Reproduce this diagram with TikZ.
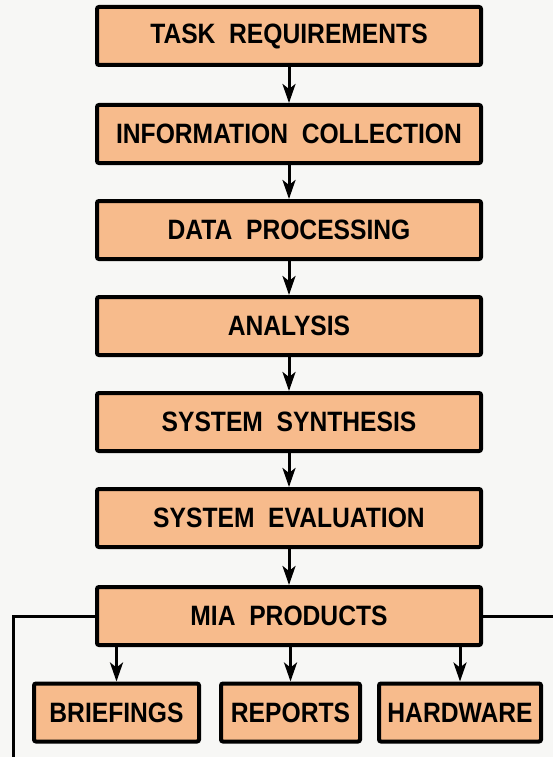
\documentclass[tikz,border=0pt]{standalone}
\usepackage{fontspec}
\usetikzlibrary{arrows.meta}
\newfontfamily\boxfont{Liberation Sans}[FakeStretch=0.88,WordSpace=2]
\definecolor{boxfill}{RGB}{247,187,140}
\definecolor{paper}{RGB}{247,247,245}

\begin{document}
\begin{tikzpicture}[x=1pt,y=-1pt,
    stage/.style={draw,line width=4pt,rounded corners=2pt,fill=boxfill,inner sep=0pt,
        minimum height=58pt,font=\boxfont\bfseries\fontsize{28}{30}\selectfont},
    mainbox/.style={stage,minimum width=384pt},
    flow/.style={line width=3pt,-{Stealth[length=19pt,width=13pt,inset=5pt]}},
    loopline/.style={line width=3pt}]
            \useasboundingbox (0,0) rectangle (553,757);
            \fill[paper] (0,0) rectangle (553,757);

            \node[mainbox] (task) at (289,36) {TASK REQUIREMENTS};
            \node[mainbox] (info) at (289,134) {INFORMATION COLLECTION};
            \node[mainbox] (data) at (289,230) {DATA PROCESSING};
            \node[mainbox] (anal) at (289,326) {ANALYSIS};
            \node[mainbox] (synth) at (289,422) {SYSTEM SYNTHESIS};
            \node[mainbox] (eval) at (289,518) {SYSTEM EVALUATION};
            \node[mainbox] (mia) at (289,616) {MIA PRODUCTS};

            \node[stage,minimum width=165pt] (brief) at (116.5,712.5) {BRIEFINGS};
            \node[stage,minimum width=139pt] (rep) at (290.5,712.5) {REPORTS};
            \node[stage,minimum width=162pt] (hard) at (460,712.5) {HARDWARE};

            \draw[flow] (task)--(info);
            \draw[flow] (info)--(data);
            \draw[flow] (data)--(anal);
            \draw[flow] (anal)--(synth);
            \draw[flow] (synth)--(eval);
            \draw[flow] (eval)--(mia);

            \draw[flow] (mia.south -| brief.north)--(brief.north);
            \draw[flow] (mia.south -| rep.north)--(rep.north);
            \draw[flow] (mia.south -| hard.north)--(hard.north);

            \coordinate (backl) at (13,757);
            \coordinate (backr) at (553,616);
            \draw[loopline] (mia.west)-|(backl);
            \draw[loopline] (mia.east)--(backr);
        \end{tikzpicture}
\end{document}
